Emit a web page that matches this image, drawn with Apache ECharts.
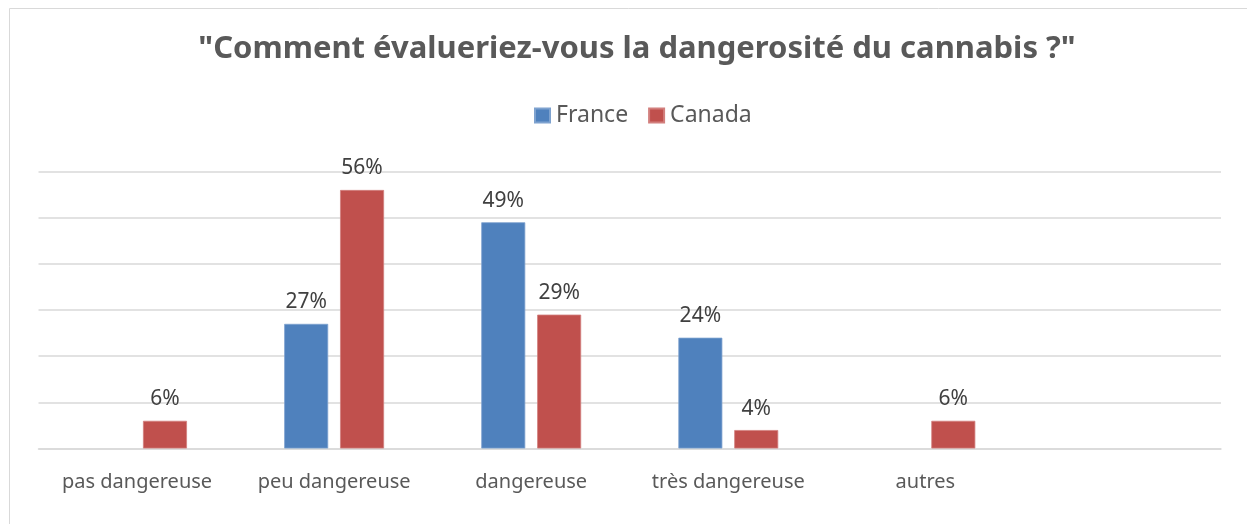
<!DOCTYPE html>
<html>
<head>
<meta charset="utf-8">
<script src="https://cdn.jsdelivr.net/npm/echarts@6/dist/echarts.min.js"></script>
<style>
  html, body { margin: 0; padding: 0; background: #fff; }
  #chart { width: 1247px; height: 524px; }
</style>
</head>
<body>
<div id="chart"></div>
<script>
// Survey answers, in percent
const categories = ['pas dangereuse', 'peu dangereuse', 'dangereuse', 'très dangereuse', 'autres', ''];
const franceValues = [null, 27, 49, 24, null, null];
const canadaValues = [6, 56, 29, 4, 6, null];
const titleText = '"Comment évalueriez-vous la dangerosité du cannabis ?"';

const FONT = '"Noto Sans", "Open Sans", sans-serif';

const chart = echarts.init(document.getElementById('chart'), null, { renderer: 'canvas' });

const labelStyle = {
  show: true,
  position: 'top',
  distance: 11,
  formatter: '{c}%',
  color: '#404040',
  fontFamily: FONT,
  fontSize: 21
};

chart.setOption({
  animation: false,
  backgroundColor: '#ffffff',
  graphic: [{
    type: 'rect',
    shape: { x: 9.5, y: 8.5, width: 1260, height: 540 },
    style: { fill: 'none', stroke: '#d9d9d9', lineWidth: 1 },
    silent: true
  }],
  title: {
    text: titleText,
    left: 632,
    textAlign: 'center',
    top: 29,
    textStyle: {
      fontFamily: FONT,
      fontWeight: 'bold',
      fontSize: 31,
      color: '#595959'
    }
  },
  legend: {
    top: 99,
    left: 529,
    itemWidth: 15,
    itemHeight: 14,
    itemGap: 20,
    icon: 'rect',
    textStyle: { fontFamily: FONT, fontSize: 23, color: '#595959', padding: [0, 0, 0, 1] },
    data: ['France', 'Canada']
  },
  grid: {
    left: 38.5,
    right: 26,
    top: 171.5,
    bottom: 75.5,
    containLabel: false
  },
  xAxis: {
    type: 'category',
    data: categories,
    axisLine: { show: true, lineStyle: { color: '#d9d9d9', width: 1.5 } },
    axisTick: { show: false },
    axisLabel: {
      interval: 0,
      margin: 24,
      color: '#595959',
      fontFamily: FONT,
      fontSize: 20
    }
  },
  yAxis: {
    type: 'value',
    min: 0,
    max: 60,
    interval: 10,
    axisLine: { show: false },
    axisTick: { show: false },
    axisLabel: { show: false },
    splitLine: { lineStyle: { color: '#d9d9d9', width: 1.5 } }
  },
  series: [
    {
      name: 'France',
      type: 'bar',
      data: franceValues,
      barWidth: 44,
      barGap: '27%',
      itemStyle: { color: '#4f81bd', borderColor: '#7ea2cf', borderWidth: 0.8 },
      label: labelStyle
    },
    {
      name: 'Canada',
      type: 'bar',
      data: canadaValues,
      barWidth: 44,
      barGap: '27%',
      itemStyle: { color: '#c0504d', borderColor: '#d27f7d', borderWidth: 0.8 },
      label: labelStyle
    }
  ]
});
</script>
</body>
</html>
